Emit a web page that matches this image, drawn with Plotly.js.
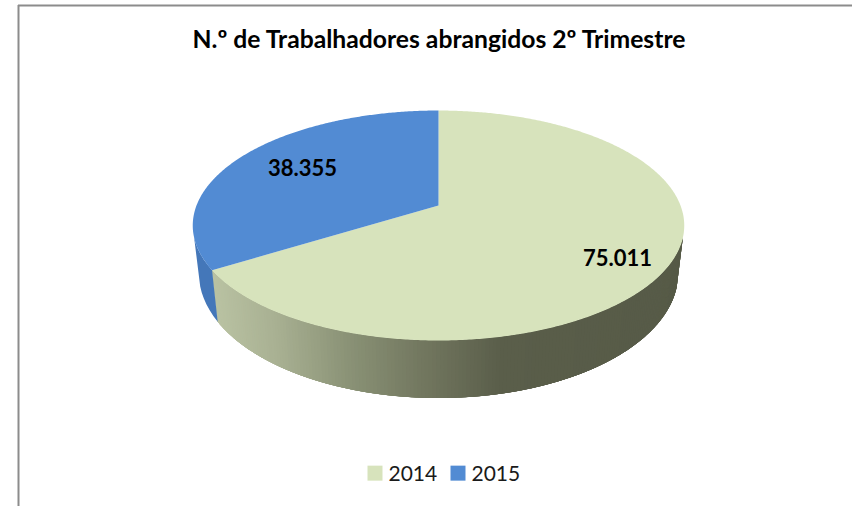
<!DOCTYPE html>
<html>
<head>
<meta charset="utf-8">
<script src="https://cdn.plot.ly/plotly-3.0.1.min.js"></script>
<style>html,body{margin:0;padding:0;background:#fff}#c{width:852px;height:506px}</style>
</head>
<body>
<div id="c"></div>
<script>
const categories = ['2014', '2015'];
const values = [75011, 38355];
const chartTitle = 'N.º de Trabalhadores abrangidos 2º Trimestre';
const sliceColors = ['#d7e3bc', '#528bd3'];
const FONT = 'Lato, Carlito, Calibri, sans-serif';

// perspective projection of the pie's top and bottom rim
const topRim = {cx: 438.5, cy: 205.5, a: 242, b: 111.5, k: 0.174};
const lowRim = {cx: 438.5, cy: 251.5, a: 236, b: 121, k: 0.174};
function project(r, deg) {
  const t = deg * Math.PI / 180, u = Math.sin(t), v = Math.cos(t), w = 1 + r.k * v;
  return [r.cx + r.a * u / w, r.cy - r.b * v / w];
}
const total = values.reduce((s, v) => s + v, 0);
const boundaries = [0];
values.forEach(v => boundaries.push(boundaries[boundaries.length - 1] + v / total * 360));

const wallStops = [[212,[187,196,164]],[280,[168,176,146]],[350,[138,146,118]],[420,[115,120,96]],[500,[90,94,74]],[690,[86,90,71]]];
function wallColor(x) {
  for (let i = 1; i < wallStops.length; i++) {
    if (x <= wallStops[i][0]) {
      const [x0, c0] = wallStops[i-1], [x1, c1] = wallStops[i];
      const f = Math.max(0, (x - x0) / (x1 - x0));
      return 'rgb(' + c0.map((c, j) => Math.round(c + (c1[j] - c) * f)).join(',') + ')';
    }
  }
  return 'rgb(86,90,71)';
}
const traces = [];
function wallStrip(d0, d1, color) {
  const xs = [], ys = [];
  const n = 6;
  for (let j = 0; j <= n; j++) { const q = project(topRim, d0 + (d1 - d0) * j / n); xs.push(q[0]); ys.push(q[1]); }
  for (let j = n; j >= 0; j--) { const q = project(lowRim, d0 + (d1 - d0) * j / n); xs.push(q[0]); ys.push(q[1]); }
  xs.push(xs[0]); ys.push(ys[0]);
  traces.push({type: 'scatter', mode: 'none', x: xs, y: ys,
    fill: 'toself', fillcolor: color, showlegend: false, hoverinfo: 'skip'});
}
// painted from the left seam towards the right; each strip is covered by the next except for its far end,
// so the colour is taken at that visible end
const STEP = 0.75, OVERLAP = 3;
for (let d = boundaries[1] - STEP; d >= 106 - OVERLAP; d -= STEP) {
  const visible = Math.min(d + OVERLAP + STEP / 2, boundaries[1]);
  wallStrip(Math.max(d, 106), Math.min(d + STEP + OVERLAP, boundaries[1]), wallColor(project(lowRim, visible)[0]));
}
wallStrip(boundaries[1], 254, '#4477b9');

categories.forEach((name, i) => {
  const xs = [topRim.cx], ys = [topRim.cy];
  for (let d = boundaries[i]; d < boundaries[i+1]; d += 0.5) { const q = project(topRim, d); xs.push(q[0]); ys.push(q[1]); }
  const q = project(topRim, boundaries[i+1]); xs.push(q[0], topRim.cx); ys.push(q[1], topRim.cy);
  traces.push({type: 'scatter', mode: 'none', name: name + ' slice', x: xs, y: ys, fill: 'toself', fillcolor: sliceColors[i],
    showlegend: false, hovertemplate: name + ': %{text}<extra></extra>', text: xs.map(() => values[i])});
});
categories.forEach((name, i) => {
  traces.push({type: 'scatter', mode: 'markers', name: name, x: [null], y: [null],
    marker: {symbol: 'square', size: 15, color: sliceColors[i]}, hoverinfo: 'skip'});
});

const fmt = v => String(v).replace(/\B(?=(\d{3})+$)/g, '.');
const labelPos = [[617, 257], [302, 167]];
const layout = {
  width: 852, height: 506, margin: {l: 0, r: 0, t: 0, b: 0},
  paper_bgcolor: '#fff', plot_bgcolor: '#fff',
  title: {text: '<b>' + chartTitle + '</b>', font: {family: FONT, size: 24.7, color: '#000'},
    x: 439 / 852, xref: 'paper', xanchor: 'center', y: 1 - 39 / 506, yref: 'paper', yanchor: 'middle'},
  xaxis: {range: [0, 852], visible: false, fixedrange: true},
  yaxis: {range: [506, 0], visible: false, fixedrange: true},
  showlegend: true,
  legend: {orientation: 'h', x: 355 / 852, xanchor: 'left', y: 1 - 473.5 / 506, yanchor: 'middle',
    font: {family: FONT, size: 21, color: '#1a1a1a'}, itemclick: false, itemdoubleclick: false, bgcolor: 'rgba(0,0,0,0)'},
  shapes: [
    {type: 'line', xref: 'x', yref: 'y', x0: 18.5, x1: 18.5, y0: 5, y1: 506, line: {color: '#8c8c8c', width: 2}},
    {type: 'line', xref: 'x', yref: 'y', x0: 18, x1: 852, y0: 5.5, y1: 5.5, line: {color: '#8c8c8c', width: 2}}
  ],
  annotations: values.map((v, i) => ({xref: 'x', yref: 'y', x: labelPos[i][0], y: labelPos[i][1], text: '<b>' + fmt(v) + '</b>',
    showarrow: false, xanchor: 'center', yanchor: 'middle', font: {family: FONT, size: 22, color: '#000'}}))
};
Plotly.newPlot('c', traces, layout, {displayModeBar: false}).then(() => {
  // tighten the legend spacing: swatch-to-text and entry-to-entry gaps are narrower than Plotly's defaults
  const items = document.querySelectorAll('.legend .traces');
  items.forEach(g => {
    const t = g.querySelector('.legendtext');
    if (t) t.setAttribute('x', 33.5);
  });
  if (items.length === 2) {
    const m = /translate\(([-\d.]+)[ ,]*([-\d.]*)\)/.exec(items[0].getAttribute('transform'));
    const x0 = m ? parseFloat(m[1]) : 0, y0 = m && m[2] ? parseFloat(m[2]) : 0;
    items[1].setAttribute('transform', 'translate(' + (x0 + 83) + ',' + y0 + ')');
  }
});
</script>
</body>
</html>
